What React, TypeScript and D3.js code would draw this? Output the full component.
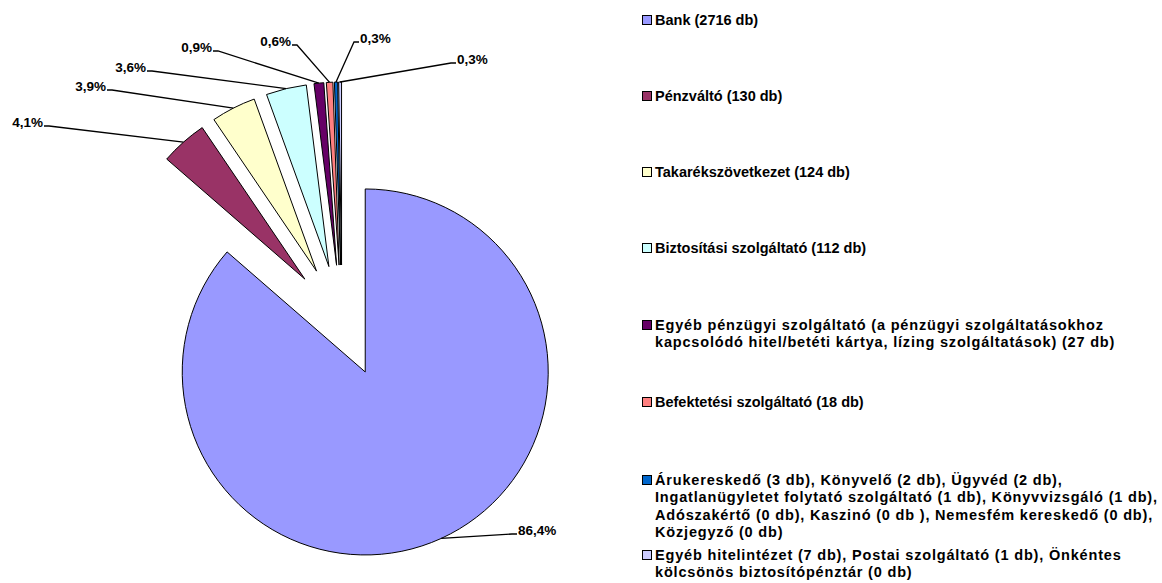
import * as d3 from "d3";

// slice data (db), order as in the legend
const categories = [
  "Bank",
  "Pénzváltó",
  "Takarékszövetkezet",
  "Biztosítási szolgáltató",
  "Egyéb pénzügyi szolgáltató",
  "Befektetési szolgáltató",
  "Árukereskedő és egyéb",
  "Egyéb hitelintézet és egyéb",
];
const counts = [2716, 130, 124, 112, 27, 18, 9, 8];
const colors = [
  "#9999FF",
  "#993366",
  "#FFFFCC",
  "#CCFFFF",
  "#660066",
  "#FF8080",
  "#0066CC",
  "#CCCCFF",
];
const legendLabels = [
  ["Bank (2716 db)"],
  ["Pénzváltó (130 db)"],
  ["Takarékszövetkezet (124 db)"],
  ["Biztosítási szolgáltató (112 db)"],
  [
    "Egyéb pénzügyi szolgáltató (a pénzügyi szolgáltatásokhoz",
    "kapcsolódó hitel/betéti kártya, lízing szolgáltatások) (27 db)",
  ],
  ["Befektetési szolgáltató (18 db)"],
  [
    "Árukereskedő (3 db), Könyvelő (2 db), Ügyvéd (2 db),",
    "Ingatlanügyletet folytató szolgáltató (1 db), Könyvvizsgáló (1 db),",
    "Adószakértő (0 db), Kaszinó (0 db ), Nemesfém kereskedő (0 db),",
    "Közjegyző (0 db)",
  ],
  [
    "Egyéb hitelintézet (7 db), Postai szolgáltató (1 db), Önkéntes",
    "kölcsönös biztosítópénztár (0 db)",
  ],
];

// layout
const W = 1162;
const H = 583;
const cx = 342;
const cy = 321;
const radius = 183;
const explode = 56;
const legendX = 642;
const legendBaselines = [25, 101, 177, 253, 330, 407, 485, 560];
const lineStep = 17.3;
// hand placed data labels: x edge, baseline, which side of the text the leader leaves
const labelPos = [
  { x: 518, y: 535, side: "start" },
  { x: 43, y: 127, side: "end" },
  { x: 106, y: 91, side: "end" },
  { x: 146, y: 72, side: "end" },
  { x: 212, y: 52, side: "end" },
  { x: 291, y: 46, side: "end" },
  { x: 360, y: 43, side: "start" },
  { x: 457, y: 64, side: "start" },
];

const font = "'Liberation Sans', Arial, sans-serif";

export default function App() {
  const total = d3.sum(counts);
  const pie = d3
    .pie<number>()
    .sort(null)
    .value((d) => d);
  const arcs = pie(counts);
  const arc = d3.arc<d3.PieArcDatum<number>>().innerRadius(0).outerRadius(radius);
  const fmt = d3.format(".1f");

  return (
    <svg
      width={W}
      height={H}
      style={{ position: "absolute", left: 0, top: 0, background: "#fff" }}
    >
      <g transform={`translate(${cx},${cy})`}>
        {arcs.map((a, i) => {
          const mid = (a.startAngle + a.endAngle) / 2;
          const dx = Math.sin(mid) * explode;
          const dy = -Math.cos(mid) * explode;
          return (
            <path
              key={categories[i]}
              d={arc(a) || ""}
              transform={`translate(${dx},${dy})`}
              fill={colors[i]}
              stroke="#000"
              strokeWidth={1}
              strokeLinejoin="round"
            />
          );
        })}
      </g>

      {arcs.map((a, i) => {
        const mid = (a.startAngle + a.endAngle) / 2;
        const r = explode + radius;
        const px = cx + Math.sin(mid) * r;
        const py = cy - Math.cos(mid) * r;
        const p = labelPos[i];
        const ly = p.y - 1;
        const x0 = p.side === "end" ? p.x + 1 : p.x - 1;
        const x1 = p.side === "end" ? p.x + 6 : p.x - 6;
        const txt = fmt((a.data / total) * 100).replace(".", ",") + "%";
        return (
          <g key={"lbl" + i}>
            <polyline
              points={`${x0},${ly} ${x1},${ly} ${px},${py}`}
              fill="none"
              stroke="#000"
              strokeWidth={1.3}
            />
            <text
              x={p.x}
              y={p.y}
              textAnchor={p.side === "end" ? "end" : "start"}
              fontFamily={font}
              fontWeight="bold"
              fontSize={13.5}
              fill="#000"
            >
              {txt}
            </text>
          </g>
        );
      })}

      {legendLabels.map((lines, i) => {
        const base = legendBaselines[i];
        // wrapped entries are spread wider in the original legend
        const spacing = lines.length > 1 ? 0.82 : 0;
        return (
          <g key={"leg" + i}>
            <rect
              x={legendX + 0.5}
              y={base - 9.5}
              width={9}
              height={9}
              fill={colors[i]}
              stroke="#000"
              strokeWidth={1}
            />
            <text
              fontFamily={font}
              fontWeight="bold"
              fontSize={14.5}
              letterSpacing={spacing}
              fill="#000"
            >
              {lines.map((ln, j) => (
                <tspan key={j} x={legendX + 13} y={base + j * lineStep}>
                  {ln}
                </tspan>
              ))}
            </text>
          </g>
        );
      })}
    </svg>
  );
}
